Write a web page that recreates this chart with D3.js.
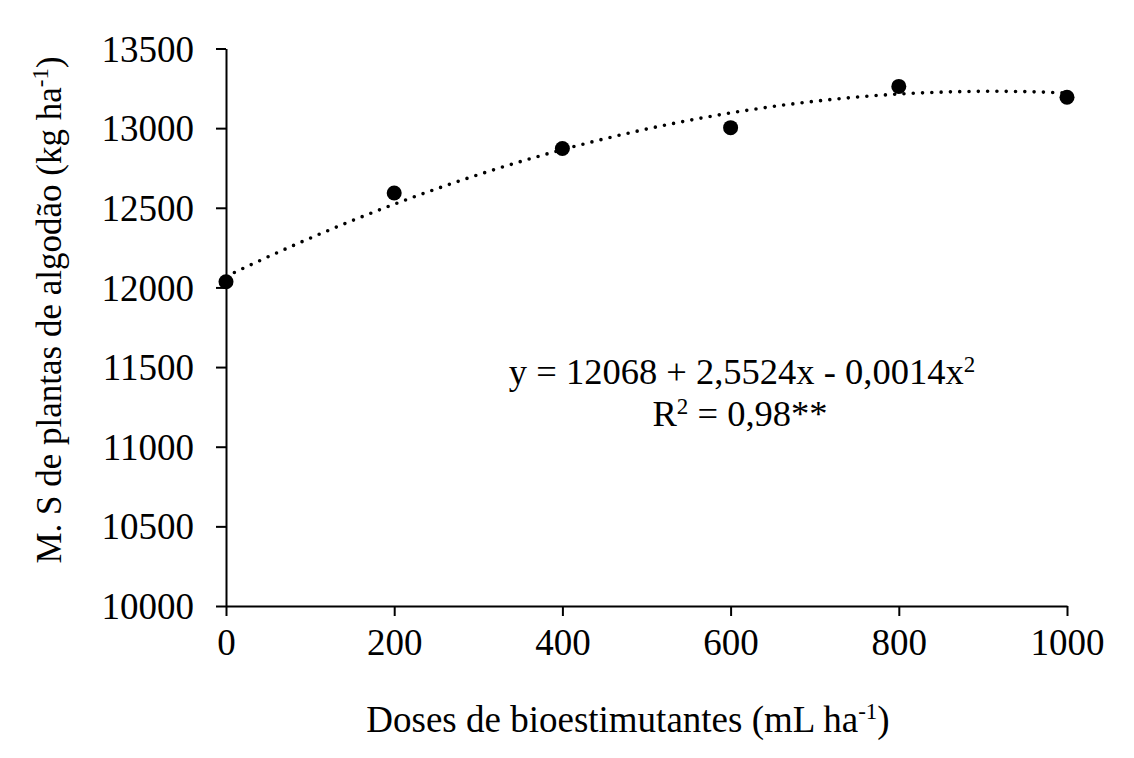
<!DOCTYPE html>
<html>
<head>
<meta charset="utf-8">
<script src="https://cdn.jsdelivr.net/npm/d3@7"></script>
<style>
  body { margin: 0; background: #fff; }
  svg text { font-family: "Liberation Serif", "Times New Roman", serif; fill: #000; }
</style>
</head>
<body>
<div class="svgcontainer"></div>
<script>
// observed means
const doses = [0, 200, 400, 600, 800, 1000];
const massaSeca = [12036, 12593, 12872, 13003, 13262, 13194];

// fitted quadratic, as printed on the chart
const coef = [12068, 2.5524, -0.0014];

const xTicks = [0, 200, 400, 600, 800, 1000];
const yTicks = [10000, 10500, 11000, 11500, 12000, 12500, 13000, 13500];

function drawChart() {
    const W = 1134, H = 758;
    const margin = { top: 48.5, right: 67, bottom: 152, left: 226 };

    const x = d3.scaleLinear().domain([0, 1000]).range([margin.left, W - margin.right]);
    const y = d3.scaleLinear().domain([10000, 13500]).range([H - margin.bottom, margin.top]);

    const svg = d3.select('.svgcontainer')
        .append('svg')
        .attr('width', W)
        .attr('height', H);

    // axes
    const gx = svg.append('g')
        .attr('transform', `translate(0, ${y(10000)})`)
        .call(d3.axisBottom(x).tickValues(xTicks).tickSize(10).tickSizeOuter(0).tickPadding(14).tickFormat(d3.format('d')));
    const gy = svg.append('g')
        .attr('transform', `translate(${x(0)}, 0)`)
        .call(d3.axisLeft(y).tickValues(yTicks).tickSize(10).tickSizeOuter(0).tickPadding(22).tickFormat(d3.format('d')));

    [gx, gy].forEach(g => {
        g.select('.domain').attr('stroke', '#000').attr('stroke-width', 2);
        g.selectAll('.tick line').attr('stroke', '#000').attr('stroke-width', 2);
        g.selectAll('.tick text').style('font-size', '37px').attr('fill', '#000');
    });
    gy.selectAll('.tick text').attr('dy', '0.34em');
    gx.selectAll('.tick text').attr('dy', '0.68em');

    // trend curve
    const curve = d3.range(0, 1001, 5).map(d => [d, coef[0] + coef[1] * d + coef[2] * d * d]);
    svg.append('path')
        .datum(curve)
        .attr('fill', 'none')
        .attr('stroke', '#000')
        .attr('stroke-width', 3.6)
        .attr('stroke-linecap', 'round')
        .attr('stroke-dasharray', '0 9.3')
        .attr('d', d3.line().x(d => x(d[0])).y(d => y(d[1])));

    // points
    svg.selectAll('.pt')
        .data(doses.map((d, i) => ({ d, v: massaSeca[i] })))
        .enter()
        .append('circle')
        .attr('class', 'pt')
        .attr('cx', d => x(d.d))
        .attr('cy', d => y(d.v))
        .attr('r', 7.5)
        .attr('fill', '#000');

    // equation
    const eq = svg.append('text')
        .attr('x', 742).attr('y', 384)
        .attr('text-anchor', 'middle')
        .style('font-size', '36.5px');
    eq.append('tspan').text('y = 12068 + 2,5524x - 0,0014x');
    eq.append('tspan').attr('dy', -12).style('font-size', '23px').text('2');

    const r2 = svg.append('text')
        .attr('x', 740).attr('y', 426)
        .attr('text-anchor', 'middle')
        .style('font-size', '36.5px');
    r2.append('tspan').text('R');
    r2.append('tspan').attr('dy', -12).style('font-size', '23px').text('2');
    r2.append('tspan').attr('dy', 12).text(' = 0,98**');

    // axis titles
    const xt = svg.append('text')
        .attr('x', 628).attr('y', 732)
        .attr('text-anchor', 'middle')
        .style('font-size', '37px');
    xt.append('tspan').text('Doses de bioestimutantes (mL ha');
    xt.append('tspan').attr('dy', -13).style('font-size', '23px').text('-1');
    xt.append('tspan').attr('dy', 13).text(')');

    const yt = svg.append('text')
        .attr('transform', 'translate(61, 310) rotate(-90)')
        .attr('text-anchor', 'middle')
        .style('font-size', '35px');
    yt.append('tspan').text('M. S de plantas de algodão (kg ha');
    yt.append('tspan').attr('dy', -13).style('font-size', '23px').text('-1');
    yt.append('tspan').attr('dy', 13).text(')');
}

drawChart();
</script>
</body>
</html>
